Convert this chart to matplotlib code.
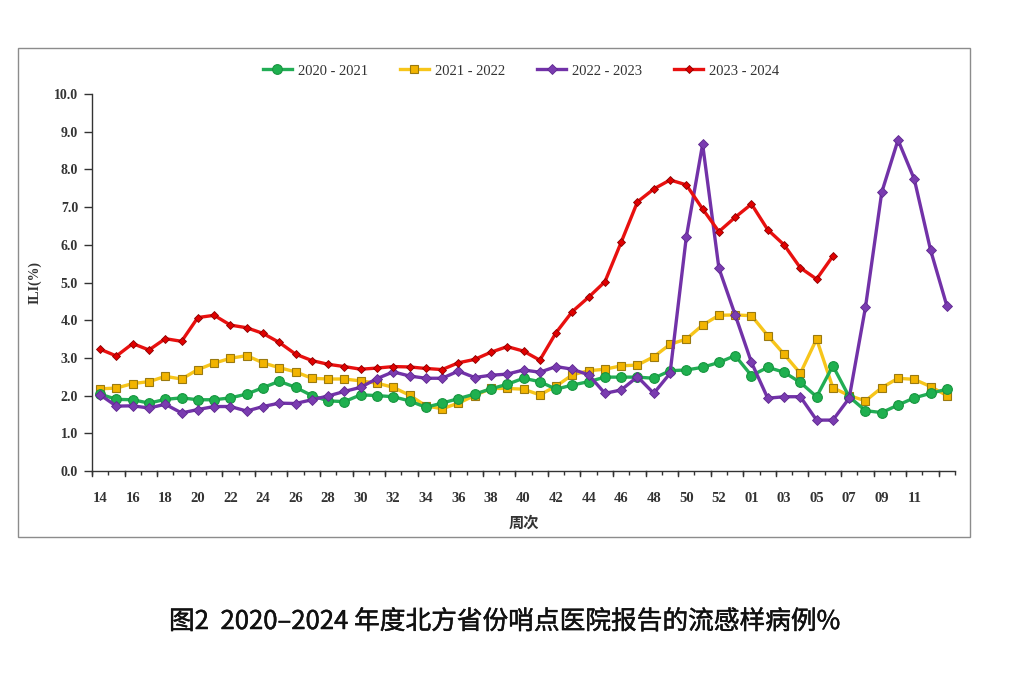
import matplotlib
matplotlib.use("Agg")
import matplotlib.pyplot as plt
from matplotlib.patches import Rectangle
from matplotlib.ticker import FixedLocator, NullFormatter
import matplotlib.patheffects as pe
import numpy as np

weeks = [str(w) for w in range(14, 54)] + ["%02d" % w for w in range(1, 14)]
tick_labels = ["14", "16", "18", "20", "22", "24", "26", "28", "30", "32", "34", "36",
               "38", "40", "42", "44", "46", "48", "50", "52", "01", "03", "05", "07", "09", "11"]

s2020_2021 = [2.04, 1.90, 1.89, 1.80, 1.90, 1.94, 1.89, 1.89, 1.94, 2.04, 2.21, 2.38, 2.22,
              2.00, 1.86, 1.84, 2.02, 2.00, 1.97, 1.86, 1.69, 1.80, 1.92, 2.04, 2.18, 2.30,
              2.46, 2.37, 2.17, 2.28, 2.37, 2.49, 2.49, 2.49, 2.46, 2.66, 2.68, 2.75, 2.88,
              3.06, 2.53, 2.75, 2.62, 2.35, 1.97, 2.79, 1.97, 1.60, 1.55, 1.75, 1.94, 2.06, 2.17]
s2021_2022 = [2.18, 2.20, 2.32, 2.37, 2.51, 2.44, 2.69, 2.86, 2.99, 3.06, 2.87, 2.74, 2.63,
              2.46, 2.44, 2.44, 2.39, 2.33, 2.22, 2.01, 1.73, 1.65, 1.80, 2.00, 2.19, 2.19,
              2.17, 2.02, 2.25, 2.55, 2.66, 2.70, 2.79, 2.81, 3.03, 3.36, 3.50, 3.87, 4.13,
              4.14, 4.12, 3.59, 3.10, 2.59, 3.50, 2.21, 2.00, 1.86, 2.21, 2.46, 2.43, 2.24, 2.00]
s2022_2023 = [2.02, 1.72, 1.73, 1.67, 1.77, 1.54, 1.63, 1.71, 1.71, 1.59, 1.71, 1.80, 1.79,
              1.89, 1.99, 2.11, 2.22, 2.45, 2.63, 2.52, 2.46, 2.46, 2.65, 2.48, 2.54, 2.57,
              2.68, 2.62, 2.77, 2.70, 2.55, 2.06, 2.15, 2.50, 2.06, 2.59, 6.21, 8.67, 5.38,
              4.14, 2.88, 1.93, 1.97, 1.97, 1.35, 1.35, 1.93, 4.34, 7.39, 8.78, 7.74, 5.86, 4.38]
s2023_2024 = [3.23, 3.05, 3.38, 3.21, 3.51, 3.44, 4.07, 4.13, 3.87, 3.80, 3.65, 3.41, 3.10,
              2.93, 2.83, 2.77, 2.70, 2.73, 2.77, 2.76, 2.72, 2.69, 2.87, 2.96, 3.15, 3.30,
              3.18, 2.94, 3.67, 4.23, 4.61, 5.02, 6.07, 7.14, 7.48, 7.72, 7.59, 6.95, 6.35,
              6.73, 7.08, 6.40, 6.00, 5.39, 5.09, 5.70]

series_labels = ["2020 - 2021", "2021 - 2022", "2022 - 2023", "2023 - 2024"]

plt.rcParams['font.family'] = ['Liberation Serif', 'Noto Sans CJK SC', 'DejaVu Sans']

fig = plt.figure(figsize=(10.14, 6.77), dpi=100)
fig.patch.set_facecolor("white")

# outer frame
fig.patches.append(Rectangle((18/1014, 1-537/677), (970-18)/1014, (537-48)/677,
                             transform=fig.transFigure, fill=False,
                             edgecolor="#8c8c8c", linewidth=1.0))

ax = fig.add_axes([92/1014, 1-471/677, (955-92)/1014, (471-94)/677])
x = np.arange(len(weeks))

ax.plot(x, s2020_2021, color="#22ad55", lw=2.4, marker="o", ms=7,
        mfc="#1fb04f", mec="#17953f", mew=0.8, label=series_labels[0], zorder=3)
ax.plot(x, s2021_2022, color="#f7c51a", lw=2.4, marker="s", ms=5.5,
        mfc="#f2b400", mec="#9a7a10", mew=0.8, label=series_labels[1], zorder=2)
ax.plot(x, s2022_2023, color="#7232a8", lw=2.4, marker="D", ms=5,
        mfc="#7a3cb0", mec="#5e2890", mew=0.6, label=series_labels[2], zorder=4)
ax.plot(np.arange(len(s2023_2024)), s2023_2024, color="#e8100f", lw=2.4, marker="D", ms=4.5,
        mfc="#e00000", mec="#8a0000", mew=0.6, label=series_labels[3], zorder=5)

ax.set_xlim(-0.5, len(weeks) - 0.5)
ax.set_ylim(0, 10)
for sp in ["top", "right"]:
    ax.spines[sp].set_visible(False)
for sp in ["left", "bottom"]:
    ax.spines[sp].set_color("#333333")
    ax.spines[sp].set_linewidth(1.0)

ax.set_yticks(np.arange(0, 10.01, 1.0))
ax.set_yticklabels(["%.1f" % v for v in np.arange(0, 10.01, 1.0)],
                   fontsize=10, fontweight="bold", color="#333333")
ax.tick_params(axis="y", direction="out", length=6, width=1, colors="#333333", pad=4)

# x: labels at even categories, ticks at category boundaries
label_pos = [weeks.index(t) for t in tick_labels]
ax.set_xticks(label_pos)
ax.set_xticklabels(tick_labels, fontsize=10.5, fontweight="bold", color="#333333")
ax.tick_params(axis="x", which="major", length=0, pad=15)
bounds = np.arange(-0.5, len(weeks), 1.0)
ax.xaxis.set_minor_locator(FixedLocator(bounds))
ax.xaxis.set_minor_formatter(NullFormatter())
ax.tick_params(axis="x", which="minor", direction="out", length=3, width=1, colors="#333333")
for b in bounds[::2]:
    ax.plot([b, b], [0, -0.12], color="#333333", lw=1, clip_on=False, zorder=1)

ax.set_ylabel("ILI(%)", fontsize=10, fontweight="bold", color="#333333", labelpad=9)
ax.set_xlabel("周次", fontsize=11, fontweight="bold", color="#333333",
              family=["Noto Sans CJK SC", "DejaVu Sans"], labelpad=7)

handles, labels = ax.get_legend_handles_labels()
fig.legend(handles, labels, loc="center", ncol=4, frameon=False,
           bbox_to_anchor=(521/1014, 1-71/677), fontsize=10.5,
           handlelength=2.0, columnspacing=2.2, handletextpad=0.4,
           labelcolor="#333333")

fig.text(505/1014, 1-622/677, "图2  2020–2024 年度北方省份哨点医院报告的流感样病例%",
         ha="center", va="center", fontsize=18.5, fontweight="normal",
         family=["Noto Sans CJK SC", "DejaVu Sans"], color="#111111",
         path_effects=[pe.withStroke(linewidth=0.35, foreground="#111111")])

fig.savefig("out.png", dpi=100, facecolor="white")
